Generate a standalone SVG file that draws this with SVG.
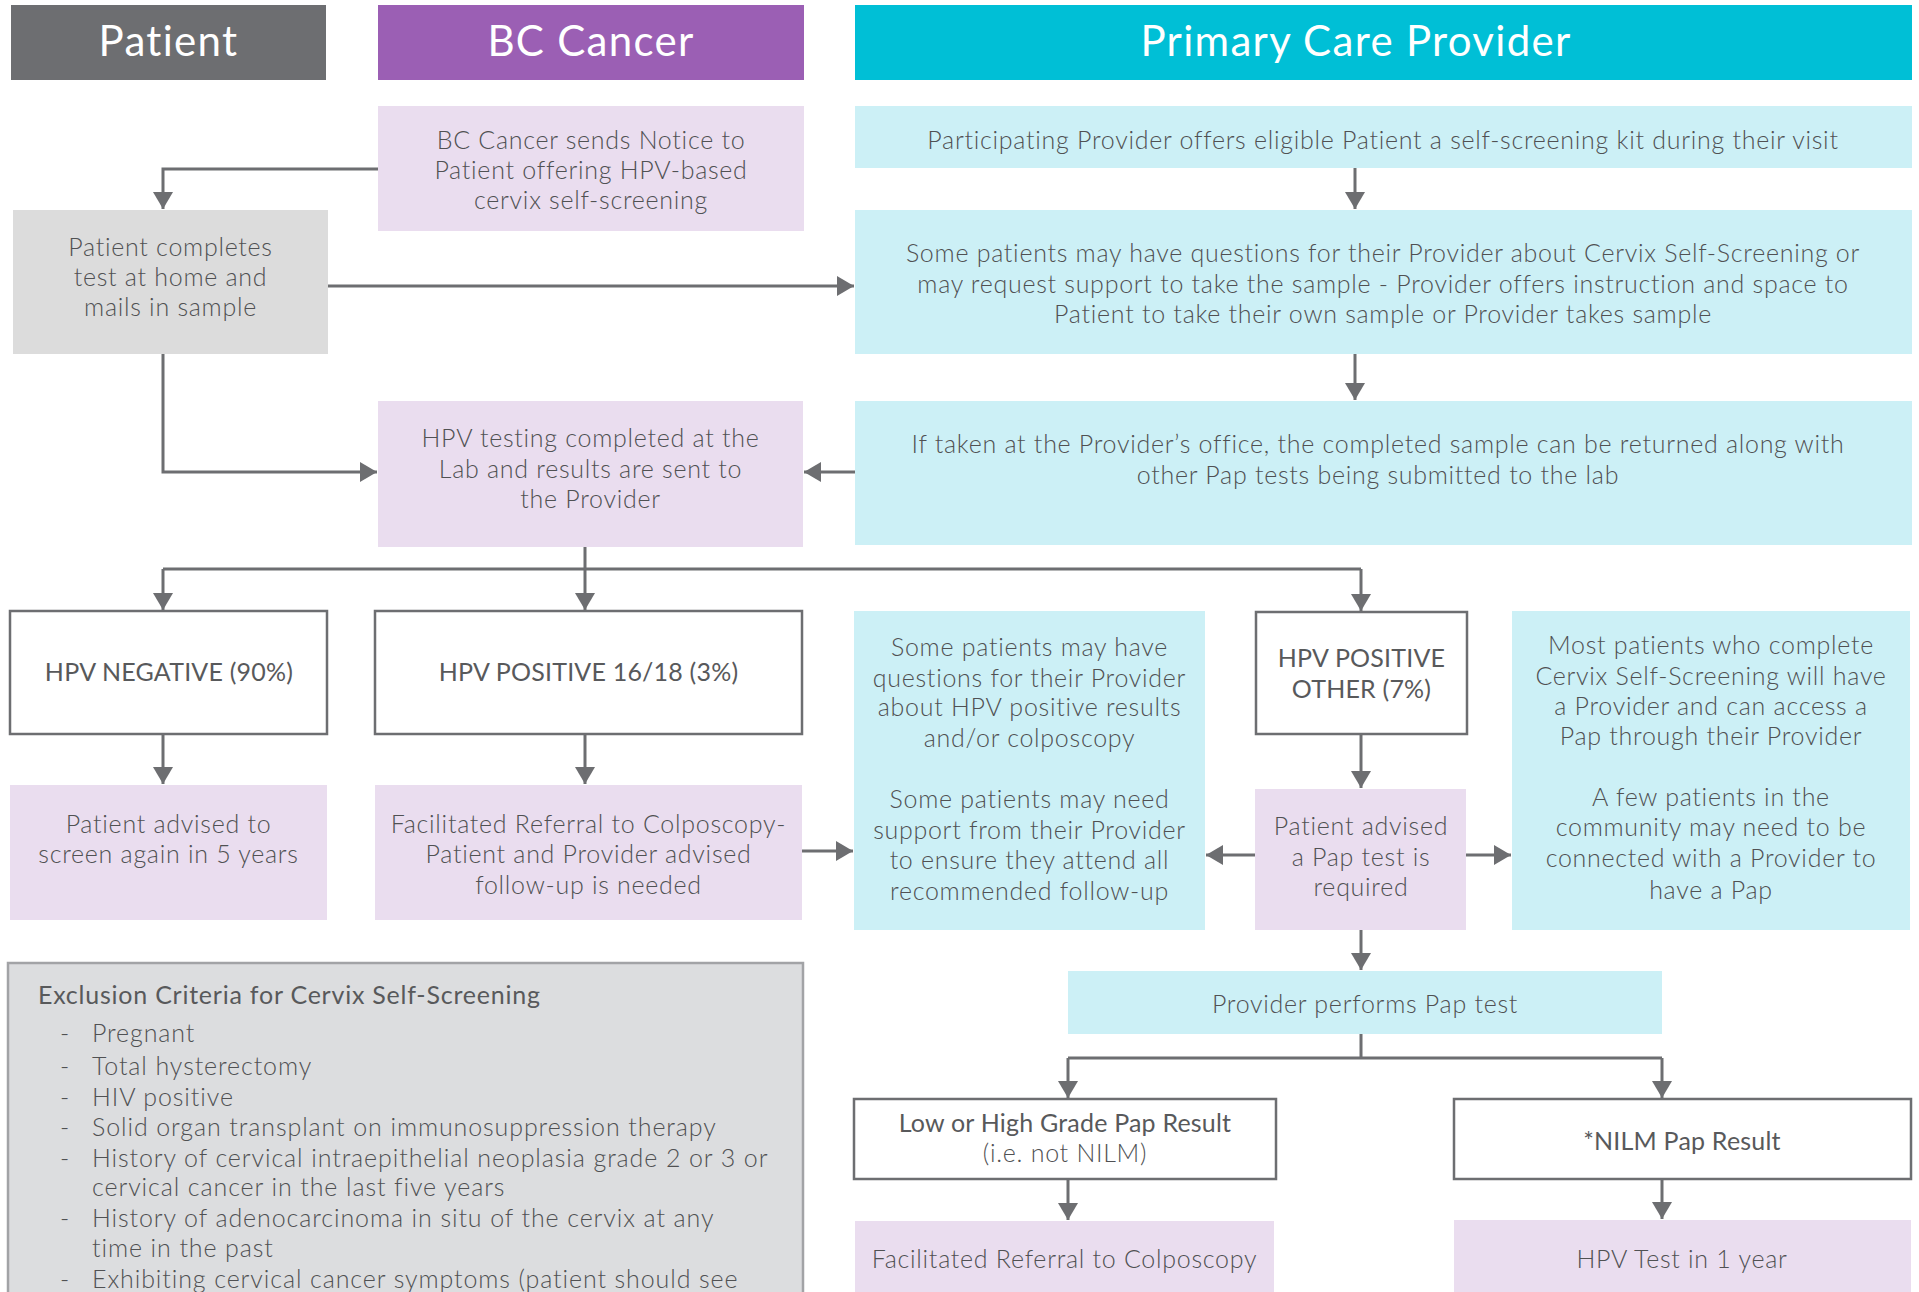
<svg xmlns="http://www.w3.org/2000/svg" width="1919" height="1292" viewBox="0 0 1919 1292">
  <style>
    .hdr { font-family: Lato, "Open Sans", "Liberation Sans", sans-serif; font-size: 42px; letter-spacing: 1.3px; fill: #ffffff; text-anchor: middle; }
    .t { font-family: Lato, "Open Sans", "Liberation Sans", sans-serif; font-weight: 300; font-size: 25px; letter-spacing: 0.72px; fill: #505153; text-anchor: middle; }
    .lbl { font-family: Lato, "Open Sans", "Liberation Sans", sans-serif; font-size: 25px; letter-spacing: 0.2px; fill: #58595b; text-anchor: middle; }
    .tl { font-family: Lato, "Open Sans", "Liberation Sans", sans-serif; font-weight: 300; font-size: 25px; letter-spacing: 0.9px; fill: #505153; }
    .ttl { font-family: Lato, "Open Sans", "Liberation Sans", sans-serif; font-size: 25px; letter-spacing: 0.77px; fill: #58595b; }
    .purple { fill: #eaddef; }
    .cyan { fill: #ccf0f6; }
    .grey { fill: #dcdcdc; }
    .outline { fill: #ffffff; stroke: #6d6e71; stroke-width: 2.5; }
    .wire { fill: none; stroke: #6d6e71; stroke-width: 3; }
    .arrow { fill: none; stroke: #6d6e71; stroke-width: 3; marker-end: url(#head); }
  </style>
  <defs>
    <marker id="head" markerUnits="userSpaceOnUse" viewBox="0 0 17 20" refX="17" refY="10" markerWidth="17" markerHeight="20" orient="auto">
      <path d="M0,0 L17,10 L0,20 Z" fill="#6d6e71"/>
    </marker>
  </defs>

  <rect width="1919" height="1292" fill="#ffffff"/>

  <!-- column headers -->
  <g id="header-patient">
    <rect x="11" y="5" width="315" height="75" fill="#6d6e71"/>
    <text class="hdr" x="168.5" y="56">Patient</text>
  </g>
  <g id="header-bccancer">
    <rect x="378" y="5" width="426" height="75" fill="#9b5fb4"/>
    <text class="hdr" x="591" y="56">BC Cancer</text>
  </g>
  <g id="header-provider">
    <rect x="855" y="5" width="1057" height="75" fill="#00bfd6"/>
    <text class="hdr" x="1356" y="56">Primary Care Provider</text>
  </g>

  <!-- connectors -->
  <g id="connectors">
    <path class="arrow" d="M378,169 H163 V209"/>
    <path class="arrow" d="M328,286 H854"/>
    <path class="arrow" d="M1355,168 V209"/>
    <path class="arrow" d="M1355,354 V400"/>
    <path class="arrow" d="M163,354 V472 H377"/>
    <path class="arrow" d="M855,472 H804"/>
    <path class="wire" d="M585,547 V569 M163,569 H1361"/>
    <path class="arrow" d="M163,569 V610"/>
    <path class="arrow" d="M585,569 V610"/>
    <path class="arrow" d="M1361,569 V611"/>
    <path class="arrow" d="M163,734 V784"/>
    <path class="arrow" d="M585,734 V784"/>
    <path class="arrow" d="M802,851 H853"/>
    <path class="arrow" d="M1361,734 V788"/>
    <path class="arrow" d="M1255,855 H1206"/>
    <path class="arrow" d="M1466,855 H1511"/>
    <path class="arrow" d="M1361,930 V970"/>
    <path class="wire" d="M1361,1034 V1058 M1068,1058 H1662"/>
    <path class="arrow" d="M1068,1058 V1098"/>
    <path class="arrow" d="M1662,1058 V1098"/>
    <path class="arrow" d="M1068,1179 V1220"/>
    <path class="arrow" d="M1662,1179 V1219"/>
  </g>

  <!-- nodes -->
  <g id="notice">
    <rect class="purple" x="378" y="106" width="426" height="125"/>
    <text class="t" x="591" y="149">BC Cancer sends Notice to</text>
    <text class="t" x="591" y="179">Patient offering HPV-based</text>
    <text class="t" x="591" y="209">cervix self-screening</text>
  </g>
  <g id="provider-offers-kit">
    <rect class="cyan" x="855" y="106" width="1057" height="62"/>
    <text class="t" x="1383" y="149">Participating Provider offers eligible Patient a self-screening kit during their visit</text>
  </g>
  <g id="patient-completes">
    <rect class="grey" x="13" y="210" width="315" height="144"/>
    <text class="t" x="170.5" y="256">Patient completes</text>
    <text class="t" x="170.5" y="286">test at home and</text>
    <text class="t" x="170.5" y="316">mails in sample</text>
  </g>
  <g id="provider-support">
    <rect class="cyan" x="855" y="210" width="1057" height="144"/>
    <text class="t" x="1383" y="262">Some patients may have questions for their Provider about Cervix Self-Screening or</text>
    <text class="t" x="1383" y="293">may request support to take the sample - Provider offers instruction and space to</text>
    <text class="t" x="1383" y="323">Patient to take their own sample or Provider takes sample</text>
  </g>
  <g id="hpv-testing">
    <rect class="purple" x="378" y="401" width="425" height="146"/>
    <text class="t" x="590.5" y="447">HPV testing completed at the</text>
    <text class="t" x="590.5" y="478">Lab and results are sent to</text>
    <text class="t" x="590.5" y="508">the Provider</text>
  </g>
  <g id="sample-returned">
    <rect class="cyan" x="855" y="401" width="1057" height="144"/>
    <text class="t" x="1378" y="453">If taken at the Provider’s office, the completed sample can be returned along with</text>
    <text class="t" x="1378" y="484">other Pap tests being submitted to the lab</text>
  </g>
  <g id="hpv-negative">
    <rect class="outline" x="10" y="611" width="317" height="123"/>
    <text class="lbl" x="169" y="681">HPV NEGATIVE (90%)</text>
  </g>
  <g id="hpv-positive-1618">
    <rect class="outline" x="375" y="611" width="427" height="123"/>
    <text class="lbl" x="588.5" y="681">HPV POSITIVE 16/18 (3%)</text>
  </g>
  <g id="followup-support">
    <rect class="cyan" x="854" y="611" width="351" height="319"/>
    <text class="t" x="1029.5" y="656">Some patients may have</text>
    <text class="t" x="1029.5" y="687">questions for their Provider</text>
    <text class="t" x="1029.5" y="716">about HPV positive results</text>
    <text class="t" x="1029.5" y="747">and/or colposcopy</text>
    <text class="t" x="1029.5" y="808">Some patients may need</text>
    <text class="t" x="1029.5" y="839">support from their Provider</text>
    <text class="t" x="1029.5" y="869">to ensure they attend all</text>
    <text class="t" x="1029.5" y="900">recommended follow-up</text>
  </g>
  <g id="hpv-positive-other">
    <rect class="outline" x="1256" y="612" width="211" height="122"/>
    <text class="lbl" x="1361.5" y="667">HPV POSITIVE</text>
    <text class="lbl" x="1361.5" y="698">OTHER (7%)</text>
  </g>
  <g id="provider-access">
    <rect class="cyan" x="1512" y="611" width="398" height="319"/>
    <text class="t" x="1711" y="654">Most patients who complete</text>
    <text class="t" x="1711" y="685">Cervix Self-Screening will have</text>
    <text class="t" x="1711" y="715">a Provider and can access a</text>
    <text class="t" x="1711" y="745">Pap through their Provider</text>
    <text class="t" x="1711" y="806">A few patients in the</text>
    <text class="t" x="1711" y="836">community may need to be</text>
    <text class="t" x="1711" y="867">connected with a Provider to</text>
    <text class="t" x="1711" y="899">have a Pap</text>
  </g>
  <g id="pap-required">
    <rect class="purple" x="1255" y="789" width="211" height="141"/>
    <text class="t" x="1361" y="835">Patient advised</text>
    <text class="t" x="1361" y="866">a Pap test is</text>
    <text class="t" x="1361" y="896">required</text>
  </g>
  <g id="screen-again">
    <rect class="purple" x="10" y="785" width="317" height="135"/>
    <text class="t" x="168.5" y="833">Patient advised to</text>
    <text class="t" x="168.5" y="863">screen again in 5 years</text>
  </g>
  <g id="referral-followup">
    <rect class="purple" x="375" y="785" width="427" height="135"/>
    <text class="t" x="588.5" y="833">Facilitated Referral to Colposcopy-</text>
    <text class="t" x="588.5" y="863">Patient and Provider advised</text>
    <text class="t" x="588.5" y="894">follow-up is needed</text>
  </g>
  <g id="exclusion-criteria">
    <rect x="8" y="963" width="795" height="345" fill="#dcdddf" stroke="#a2a3a6" stroke-width="2.5"/>
    <text class="ttl" x="38" y="1004">Exclusion Criteria for Cervix Self-Screening</text>
    <text class="tl" x="60" y="1042">-</text><text class="tl" x="92" y="1042">Pregnant</text>
    <text class="tl" x="60" y="1075">-</text><text class="tl" x="92" y="1075">Total hysterectomy</text>
    <text class="tl" x="60" y="1106">-</text><text class="tl" x="92" y="1106">HIV positive</text>
    <text class="tl" x="60" y="1136">-</text><text class="tl" x="92" y="1136">Solid organ transplant on immunosuppression therapy</text>
    <text class="tl" x="60" y="1167">-</text><text class="tl" x="92" y="1167">History of cervical intraepithelial neoplasia grade 2 or 3 or</text>
    <text class="tl" x="92" y="1196">cervical cancer in the last five years</text>
    <text class="tl" x="60" y="1227">-</text><text class="tl" x="92" y="1227">History of adenocarcinoma in situ of the cervix at any</text>
    <text class="tl" x="92" y="1257">time in the past</text>
    <text class="tl" x="60" y="1288">-</text><text class="tl" x="92" y="1288">Exhibiting cervical cancer symptoms (patient should see</text>
  </g>
  <g id="provider-pap">
    <rect class="cyan" x="1068" y="971" width="594" height="63"/>
    <text class="t" x="1365" y="1013">Provider performs Pap test</text>
  </g>
  <g id="abnormal-pap">
    <rect class="outline" x="854" y="1099" width="422" height="80"/>
    <text class="lbl" x="1065" y="1132">Low or High Grade Pap Result</text>
    <text class="t" x="1065" y="1162">(i.e. not NILM)</text>
  </g>
  <g id="nilm-pap">
    <rect class="outline" x="1454" y="1099" width="457" height="80"/>
    <text class="lbl" x="1682" y="1150">*NILM Pap Result</text>
  </g>
  <g id="referral-colposcopy">
    <rect class="purple" x="855" y="1221" width="419" height="80"/>
    <text class="t" x="1064.5" y="1268">Facilitated Referral to Colposcopy</text>
  </g>
  <g id="hpv-retest">
    <rect class="purple" x="1454" y="1220" width="457" height="80"/>
    <text class="t" x="1682" y="1268">HPV Test in 1 year</text>
  </g>
</svg>
